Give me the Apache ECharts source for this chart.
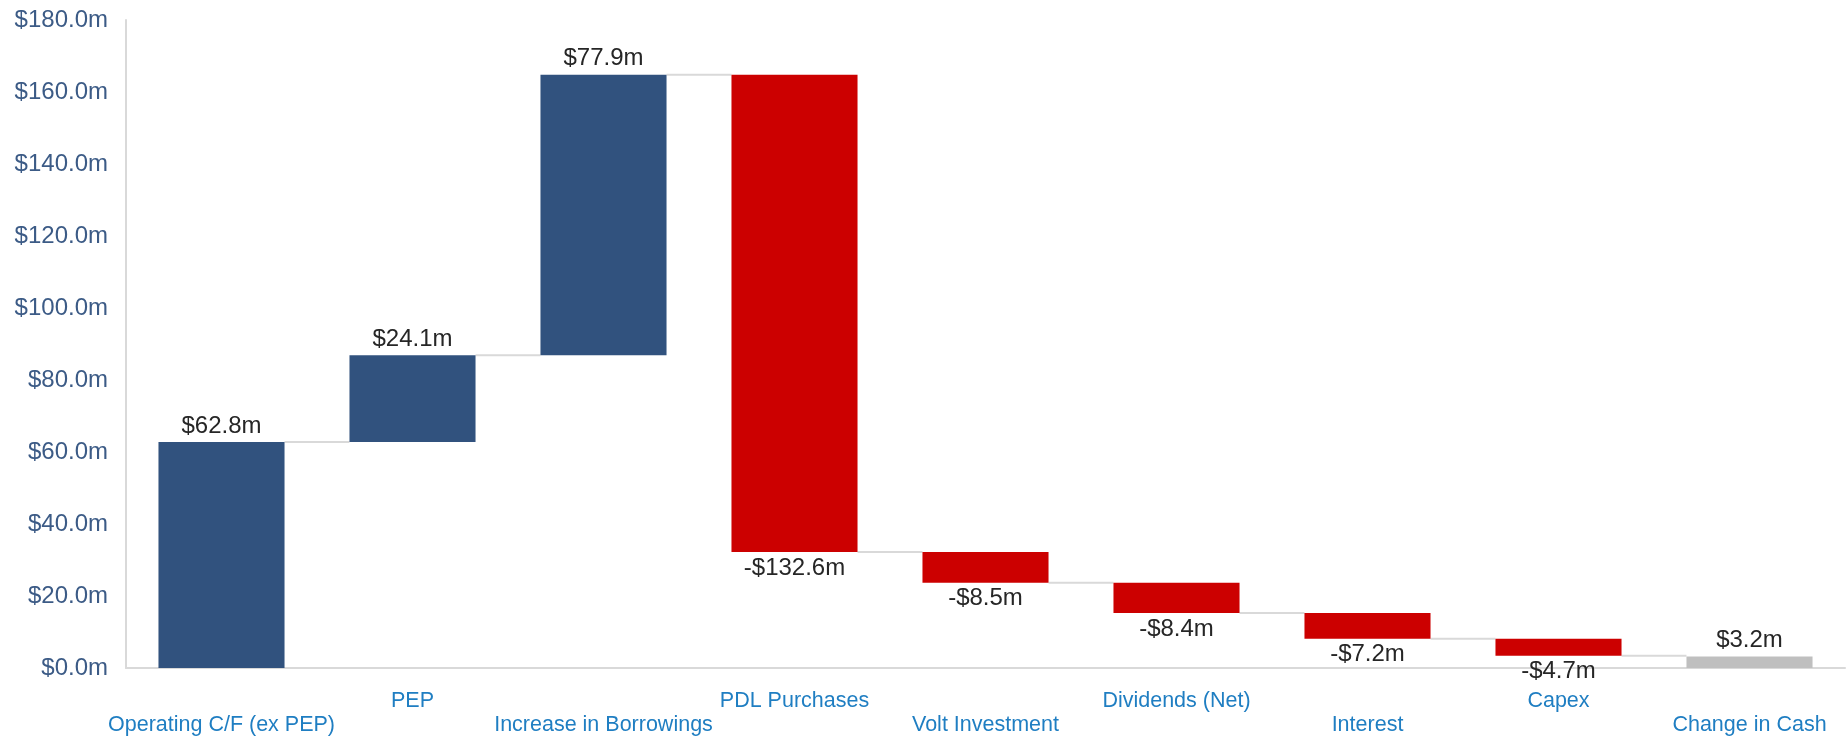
<!DOCTYPE html>
<html>
<head>
<meta charset="utf-8">
<script src="https://cdn.jsdelivr.net/npm/echarts@6/dist/echarts.min.js"></script>
<style>
  html, body { margin: 0; padding: 0; background: #fff; }
  #chart { width: 1848px; height: 739px; }
</style>
</head>
<body>
<div id="chart"></div>
<script>
// 瀑布图数据
const categories = [
  'Operating C/F (ex PEP)', 'PEP', 'Increase in Borrowings', 'PDL Purchases',
  'Volt Investment', 'Dividends (Net)', 'Interest', 'Capex', 'Change in Cash'
]
const deltas = [62.8, 24.1, 77.9, -132.6, -8.5, -8.4, -7.2, -4.7]
const totalChange = 3.2
const yMin = 0
const yMax = 180
const yStep = 20

const FONT = '"Liberation Sans", Arial, Helvetica, sans-serif'

// 计算透明底座、柱高和连接线位置
const baseData = []
const barData = []
const signed = []
const levels = []
let running = 0
deltas.forEach(d => {
  const next = running + d
  baseData.push(Math.min(running, next))
  barData.push({
    value: Math.abs(d),
    itemStyle: { color: d < 0 ? '#cc0000' : '#31527e' },
    label: { position: d < 0 ? 'bottom' : 'top' }
  })
  signed.push(d)
  levels.push(next)
  running = next
})
baseData.push(0)
barData.push({ value: totalChange, itemStyle: { color: '#bfbfbf' }, label: { position: 'top' } })
signed.push(totalChange)

const fmt = v => (v < 0 ? '-' : '') + '$' + Math.abs(v).toFixed(1) + 'm'

const chart = echarts.init(document.getElementById('chart'))
chart.setOption({
  animation: false,
  grid: { left: 126, right: 3, top: 20, bottom: 71 },
  xAxis: {
    type: 'category',
    data: categories,
    axisLine: { lineStyle: { color: '#d9d9d9', width: 2 } },
    axisTick: { show: false },
    axisLabel: {
      interval: 0,
      margin: 21,
      color: '#1f7ec2',
      fontSize: 21.5,
      lineHeight: 24,
      fontFamily: FONT,
      formatter: (v, i) => (i % 2 === 0 ? '\n' + v : v)
    }
  },
  yAxis: {
    type: 'value',
    min: yMin,
    max: yMax,
    interval: yStep,
    axisLine: { show: true, lineStyle: { color: '#d9d9d9', width: 2 } },
    axisTick: { show: false },
    splitLine: { show: false },
    axisLabel: {
      margin: 18,
      color: '#3c5b86',
      fontSize: 24,
      fontFamily: FONT,
      formatter: v => '$' + v.toFixed(1) + 'm'
    }
  },
  series: [
    {
      type: 'bar',
      stack: 'wf',
      barWidth: '66%',
      silent: true,
      itemStyle: { color: 'transparent' },
      data: baseData
    },
    {
      type: 'bar',
      stack: 'wf',
      barWidth: '66%',
      data: barData,
      label: {
        show: true,
        distance: 4,
        color: '#262626',
        fontSize: 24,
        fontFamily: FONT,
        formatter: p => fmt(signed[p.dataIndex])
      }
    },
    {
      // 柱子之间的连接线
      type: 'custom',
      silent: true,
      z: 1,
      renderItem: (params, api) => {
        const i = api.value(0)
        const y = api.value(1)
        const p1 = api.coord([i, y])
        const p2 = api.coord([i + 1, y])
        const half = api.size([1, 0])[0] * 0.33
        return {
          type: 'line',
          shape: { x1: p1[0] + half, y1: p1[1], x2: p2[0] - half, y2: p2[1] },
          style: { stroke: '#d9d9d9', lineWidth: 2 }
        }
      },
      data: levels.map((v, i) => [i, v])
    }
  ]
})
</script>
</body>
</html>
